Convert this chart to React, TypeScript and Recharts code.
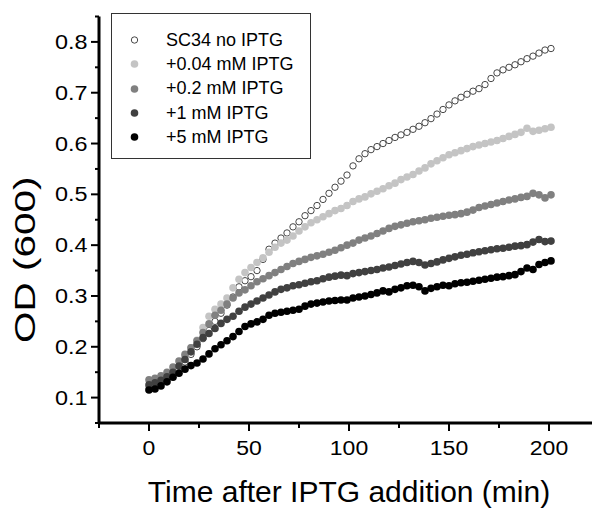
import React from 'react';
import { ScatterChart, Scatter, XAxis, YAxis, Legend } from 'recharts';

// sampling times (min) after IPTG addition
const times = [
  0, 3, 6, 9, 12, 15, 18, 21, 24, 27,
  30, 33, 36, 39, 42, 45, 48, 51, 54, 57,
  60, 63, 66, 69, 72, 75, 78, 81, 84, 87,
  90, 93, 96, 99, 102, 105, 108, 111, 114, 117,
  120, 123, 126, 129, 132, 135, 138, 141, 144, 147,
  150, 153, 156, 159, 162, 165, 168, 171, 174, 177,
  180, 183, 186, 189, 192, 195, 198, 201,
];

const noIptg = [
  0.117, 0.122, 0.128, 0.136, 0.145, 0.156, 0.170, 0.185, 0.200, 0.216,
  0.232, 0.250, 0.266, 0.282, 0.298, 0.318, 0.330, 0.338, 0.350, 0.372,
  0.392, 0.404, 0.414, 0.424, 0.436, 0.446, 0.458, 0.468, 0.478, 0.490,
  0.502, 0.514, 0.526, 0.538, 0.556, 0.570, 0.580, 0.588, 0.594, 0.600,
  0.606, 0.612, 0.617, 0.622, 0.628, 0.634, 0.641, 0.649, 0.658, 0.667,
  0.676, 0.684, 0.691, 0.697, 0.703, 0.708, 0.716, 0.728, 0.739, 0.745,
  0.750, 0.755, 0.761, 0.767, 0.772, 0.778, 0.784, 0.787,
];

const iptg004 = [
  0.117, 0.121, 0.127, 0.134, 0.143, 0.158, 0.182, 0.198, 0.213, 0.238,
  0.260, 0.274, 0.284, 0.296, 0.316, 0.333, 0.346, 0.356, 0.366, 0.375,
  0.386, 0.396, 0.404, 0.410, 0.418, 0.428, 0.436, 0.444, 0.450, 0.456,
  0.462, 0.468, 0.472, 0.478, 0.486, 0.491, 0.495, 0.501, 0.506, 0.511,
  0.517, 0.522, 0.529, 0.534, 0.539, 0.546, 0.552, 0.560, 0.566, 0.572,
  0.578, 0.582, 0.586, 0.590, 0.594, 0.597, 0.600, 0.603, 0.606, 0.610,
  0.614, 0.618, 0.622, 0.630, 0.624, 0.626, 0.629, 0.632,
];

const iptg02 = [
  0.135, 0.138, 0.143, 0.150, 0.160, 0.172, 0.185, 0.198, 0.212, 0.228,
  0.245, 0.262, 0.272, 0.284, 0.296, 0.306, 0.312, 0.320, 0.328, 0.334,
  0.340, 0.346, 0.352, 0.358, 0.364, 0.368, 0.372, 0.376, 0.379, 0.382,
  0.386, 0.390, 0.395, 0.400, 0.404, 0.410, 0.414, 0.418, 0.423, 0.428,
  0.433, 0.437, 0.440, 0.443, 0.446, 0.448, 0.450, 0.453, 0.455, 0.457,
  0.459, 0.460, 0.462, 0.465, 0.469, 0.474, 0.477, 0.480, 0.483, 0.486,
  0.489, 0.491, 0.494, 0.496, 0.502, 0.499, 0.493, 0.499,
];

const iptg1 = [
  0.125, 0.129, 0.134, 0.141, 0.150, 0.162, 0.175, 0.190, 0.205, 0.218,
  0.226, 0.236, 0.246, 0.254, 0.260, 0.270, 0.278, 0.284, 0.290, 0.296,
  0.302, 0.308, 0.313, 0.316, 0.320, 0.322, 0.325, 0.328, 0.330, 0.334,
  0.337, 0.339, 0.341, 0.340, 0.344, 0.346, 0.348, 0.350, 0.352, 0.355,
  0.357, 0.360, 0.363, 0.366, 0.368, 0.366, 0.361, 0.364, 0.367, 0.371,
  0.374, 0.377, 0.380, 0.382, 0.385, 0.387, 0.389, 0.391, 0.393, 0.394,
  0.396, 0.398, 0.399, 0.401, 0.406, 0.411, 0.407, 0.408,
];

const iptg5 = [
  0.115, 0.117, 0.123, 0.131, 0.140, 0.148, 0.156, 0.163, 0.168, 0.176,
  0.186, 0.196, 0.204, 0.212, 0.220, 0.230, 0.240, 0.245, 0.249, 0.254,
  0.262, 0.266, 0.268, 0.270, 0.272, 0.274, 0.280, 0.284, 0.286, 0.288,
  0.290, 0.291, 0.292, 0.292, 0.296, 0.298, 0.300, 0.303, 0.306, 0.310,
  0.308, 0.313, 0.316, 0.320, 0.321, 0.318, 0.310, 0.315, 0.318, 0.321,
  0.320, 0.324, 0.326, 0.327, 0.329, 0.331, 0.333, 0.335, 0.337, 0.338,
  0.340, 0.342, 0.348, 0.355, 0.352, 0.362, 0.366, 0.369,
];

const seriesNames = ['SC34 no IPTG', '+0.04 mM IPTG', '+0.2 mM IPTG', '+1 mM IPTG', '+5 mM IPTG'];
const seriesValues = [noIptg, iptg004, iptg02, iptg1, iptg5];

const xMajor = [0, 50, 100, 150, 200];
const xMinor = [-25, 25, 75, 125, 175];
const yMajor = [0.1, 0.2, 0.3, 0.4, 0.5, 0.6, 0.7, 0.8];
const yMinor = [0.05, 0.15, 0.25, 0.35, 0.45, 0.55, 0.65, 0.75, 0.85];

const FONT = '"Liberation Sans", Arial, sans-serif';
const fills = ['#ffffff', '#c4c4c4', '#808080', '#404040', '#000000'];

const isIn = (list: number[], v: number) => list.some((m) => Math.abs(m - v) < 1e-6);

const XTick = (props: any) => {
  const { x, y, payload } = props;
  const major = isIn(xMajor, payload.value);
  return (
    <g>
      <line x1={x} x2={x} y1={y} y2={y + (major ? 8 : 5)} stroke="#000" strokeWidth={2} />
      {major && (
        <text
          transform={`translate(${x},${y + 32}) scale(1.18,1)`}
          textAnchor="middle"
          fontSize={19.5}
          fontFamily={FONT}
          fill="#000"
        >
          {payload.value}
        </text>
      )}
    </g>
  );
};

const YTick = (props: any) => {
  const { x, y, payload } = props;
  const major = isIn(yMajor, payload.value);
  return (
    <g>
      <line x1={x - (major ? 8 : 4)} x2={x} y1={y} y2={y} stroke="#000" strokeWidth={2} />
      {major && (
        <text
          transform={`translate(${x - 11.5},${y + 7}) scale(1.2,1)`}
          textAnchor="end"
          fontSize={19.5}
          fontFamily={FONT}
          fill="#000"
        >
          {payload.value.toFixed(1)}
        </text>
      )}
    </g>
  );
};

const Marker = ({ cx, cy, index }: { cx?: number; cy?: number; index: number }) => {
  if (cx == null || cy == null) return null;
  if (index === 0) {
    return <circle cx={cx} cy={cy} r={3.2} fill="#fff" stroke="#333" strokeWidth={0.9} />;
  }
  return <circle cx={cx} cy={cy} r={3.8} fill={fills[index]} stroke="none" />;
};

const LegendBox = () => (
  <div
    style={{
      width: 200,
      height: 146,
      boxSizing: 'border-box',
      border: '1.5px solid #333',
      background: '#fff',
      paddingTop: 2,
      fontFamily: FONT,
      fontSize: 18,
      color: '#000',
    }}
  >
    {seriesNames.map((name, i) => (
      <div key={name} style={{ display: 'flex', alignItems: 'center', height: 24.3, marginTop: i === 0 ? 12 : 0 }}>
        <svg width={54} height={24} style={{ flex: 'none' }}>
          <Marker cx={22.5} cy={12} index={i} />
        </svg>
        <span style={{ whiteSpace: 'nowrap' }}>{name}</span>
      </div>
    ))}
  </div>
);

export default function App() {
  const data = seriesValues.map((vals) => vals.map((v, i) => ({ t: times[i], v })));
  const xTicks = [...xMinor, ...xMajor].sort((a, b) => a - b);
  const yTicks = [...yMinor, ...yMajor].sort((a, b) => a - b);

  return (
    <div
      style={{
        position: 'absolute',
        left: 0,
        top: 0,
        width: 592,
        height: 510,
        overflow: 'hidden',
        background: '#fff',
      }}
    >
      <ScatterChart width={600} height={510} margin={{ top: 16.5, right: 1, bottom: 57, left: 39 }}>
        <XAxis
          type="number"
          dataKey="t"
          domain={[-25, 225]}
          ticks={xTicks}
          interval={0}
          height={30}
          tickSize={0}
          tickMargin={0}
          tickLine={false}
          tick={<XTick />}
          axisLine={{ stroke: '#000', strokeWidth: 3 }}
          allowDataOverflow
          label={{
            content: (p: any) => (
              <text
                x={p.viewBox.x + p.viewBox.width / 2}
                y={p.viewBox.y + 79}
                textAnchor="middle"
                fontSize={30}
                fontFamily={FONT}
                fill="#000"
              >
                Time after IPTG addition (min)
              </text>
            ),
          }}
        />
        <YAxis
          type="number"
          dataKey="v"
          domain={[0.05, 0.85]}
          ticks={yTicks}
          interval={0}
          width={60}
          tickSize={0}
          tickMargin={0}
          tickLine={false}
          tick={<YTick />}
          axisLine={{ stroke: '#000', strokeWidth: 3 }}
          allowDataOverflow
          label={{
            content: (p: any) => (
              <text
                transform={`translate(35,${p.viewBox.y + p.viewBox.height / 2 + 40}) rotate(-90) scale(1.35,1)`}
                textAnchor="middle"
                fontSize={30}
                fontFamily={FONT}
                fill="#000"
              >
                OD (600)
              </text>
            ),
          }}
        />
        <Legend
          layout="vertical"
          align="center"
          verticalAlign="middle"
          content={() => <LegendBox />}
          wrapperStyle={{ left: 111, top: 13, width: 200, height: 146 }}
        />
        {data.map((d, i) => (
          <Scatter
            key={seriesNames[i]}
            name={seriesNames[i]}
            data={d}
            isAnimationActive={false}
            shape={(p: any) => <Marker cx={p.cx} cy={p.cy} index={i} />}
          />
        ))}
      </ScatterChart>
    </div>
  );
}
